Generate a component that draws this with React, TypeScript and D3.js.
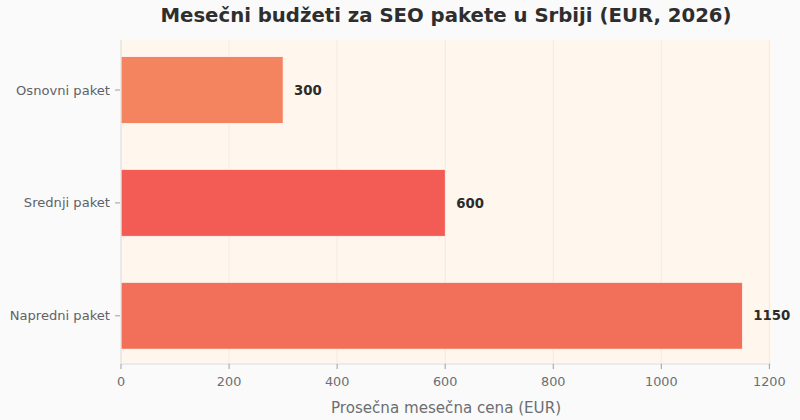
import React from "react";
import * as d3 from "d3";

const categories = ["Osnovni paket", "Srednji paket", "Napredni paket"];
const values = [300, 600, 1150];
const barColors = ["#F4845F", "#F25C54", "#F27059"];
const xTicks = [0, 200, 400, 600, 800, 1000, 1200];
const title = "Mesečni budžeti za SEO pakete u Srbiji (EUR, 2026)";
const xLabel = "Prosečna mesečna cena (EUR)";

const W = 800, H = 420;
const m = { left: 121, right: 29, top: 40, bottom: 56 };
const FONT = "'DejaVu Sans', sans-serif";

export default function App() {
  const pw = W - m.left - m.right;
  const ph = H - m.top - m.bottom;
  const x = d3.scaleLinear().domain([0, 1203]).range([m.left, m.left + pw]);
  const y = d3.scaleLinear().domain([-0.443, 2.427]).range([m.top, m.top + ph]);
  const bh = 0.59;
  return (
    <svg width={W} height={H} style={{ position: "absolute", left: 0, top: 0, background: "#FAFAFA", fontFamily: FONT }}>
      <rect x={0} y={0} width={W} height={H} fill="#FAFAFA" />
      <rect x={m.left} y={m.top} width={pw} height={ph} fill="#FFF7EE" />
      {xTicks.map((t) => (
        <line key={"g" + t} x1={x(t)} x2={x(t)} y1={m.top} y2={m.top + ph} stroke="#EFE8DE" strokeWidth={0.8} />
      ))}
      {categories.map((c, i) => (
        <g key={c}>
          <rect x={x(0)} y={y(i - bh / 2)} width={x(values[i]) - x(0)} height={y(bh) - y(0)} fill={barColors[i]} stroke="#fff" strokeWidth={0.6} />
          <text x={x(values[i]) + 11} y={y(i)} dy="0.35em" fontSize={13.3} fontWeight="bold" fill="#2B2B2B">{values[i]}</text>
          <line x1={m.left - 6} x2={m.left - 1} y1={y(i)} y2={y(i)} stroke="#888" strokeWidth={0.8} />
          <text x={m.left - 11} y={y(i)} dy="0.35em" textAnchor="end" fontSize={13.1} fill="#5F6368">{c}</text>
        </g>
      ))}
      <line x1={m.left} x2={m.left} y1={m.top} y2={m.top + ph} stroke="#E0E0E0" strokeWidth={1} />
      <line x1={m.left} x2={m.left + pw} y1={m.top + ph} y2={m.top + ph} stroke="#D5DCE3" strokeWidth={1} />
      {xTicks.map((t) => (
        <g key={"t" + t}>
          <line x1={x(t)} x2={x(t)} y1={m.top + ph} y2={m.top + ph + 5} stroke="#888" strokeWidth={0.8} />
          <text x={x(t)} y={m.top + ph + 18} dy="0.35em" textAnchor="middle" fontSize={12.8} fill="#6B6E72">{t}</text>
        </g>
      ))}
      <text x={m.left + pw / 2} y={408} dy="0.35em" textAnchor="middle" fontSize={15.1} fill="#6B6E72">{xLabel}</text>
      <text x={m.left + pw / 2} y={22} textAnchor="middle" fontSize={19.7} fontWeight="bold" fill="#2E2E2E">{title}</text>
    </svg>
  );
}
